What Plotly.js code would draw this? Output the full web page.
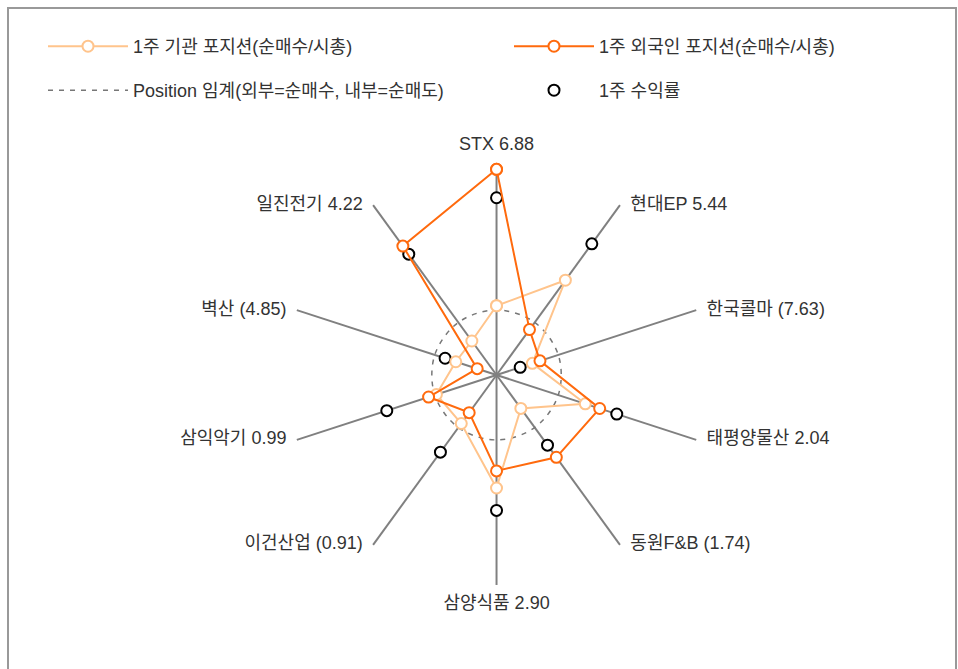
<!DOCTYPE html>
<html>
<head>
<meta charset="utf-8">
<script src="https://cdn.plot.ly/plotly-3.0.1.min.js"></script>
<style>
  html, body { margin: 0; padding: 0; background: #fff; }
  #chart { width: 958px; height: 669px; }
</style>
</head>
<body>
<div id="chart"></div>
<script>
// stocks clockwise from the top
const stocks = ['STX', '현대EP', '한국콜마', '태평양물산', '동원F&B', '삼양식품', '이건산업', '삼익악기', '벽산', '일진전기'];
// 1-week return (%)
const weekReturn = [6.88, 5.44, -7.63, 2.04, -1.74, 2.90, -0.91, 0.99, -4.85, 4.22];
// 1-week net buying / market cap (%)
const instPosition = [0.020, 0.241, -0.126, 0.131, -0.109, 0.222, -0.023, -0.008, -0.102, -0.106];
const foreignPosition = [0.650, -0.041, -0.089, 0.201, 0.170, 0.143, -0.085, 0.030, -0.206, 0.436];
const positionThreshold = 0;

const fmt = v => v < 0 ? '(' + Math.abs(v).toFixed(2) + ')' : v.toFixed(2);
const labels = stocks.map((s, i) => s + ' ' + fmt(weekReturn[i]));
const closed = arr => arr.concat([arr[0]]);

const LIGHT = '#ffc48c';
const ORANGE = '#ff6a0d';
const FONT = '"Liberation Sans", "Noto Sans CJK KR", sans-serif';
const RET_RANGE = [-10, 10];

// label side for each spoke, going clockwise from the top
const labelPos = ['top center', 'middle right', 'middle right', 'middle right', 'middle right',
  'bottom center', 'middle left', 'middle left', 'middle left', 'middle left'];

const traces = [
  {
    type: 'scatterpolar', subplot: 'polar2', legend: 'legend3',
    name: 'Position 임계(외부=순매수, 내부=순매도)',
    theta: closed(labels), r: closed(labels.map(() => positionThreshold)),
    mode: 'lines', hoverinfo: 'skip',
    line: { color: '#777', width: 1.5, dash: '5px,6px', shape: 'spline' }
  },
  {
    type: 'scatterpolar', subplot: 'polar2', legend: 'legend',
    name: '1주 기관 포지션(순매수/시총)',
    theta: closed(labels), r: closed(instPosition),
    mode: 'lines+markers',
    line: { color: LIGHT, width: 2 },
    marker: { symbol: 'circle', size: 11, color: '#fff', line: { color: LIGHT, width: 2 } }
  },
  {
    type: 'scatterpolar', subplot: 'polar2', legend: 'legend2',
    name: '1주 외국인 포지션(순매수/시총)',
    theta: closed(labels), r: closed(foreignPosition),
    mode: 'lines+markers',
    line: { color: ORANGE, width: 2 },
    marker: { symbol: 'circle', size: 11, color: '#fff', line: { color: ORANGE, width: 2 } }
  },
  {
    type: 'scatterpolar', subplot: 'polar', legend: 'legend4',
    name: '1주 수익률',
    theta: labels, r: weekReturn,
    mode: 'markers',
    marker: { symbol: 'circle', size: 11, color: '#fff', line: { color: '#000', width: 2 } }
  },
  {
    // spoke labels at the end of each spoke
    type: 'scatterpolar', subplot: 'polar', showlegend: false, hoverinfo: 'skip',
    theta: labels, r: labels.map(() => RET_RANGE[1]),
    mode: 'markers+text', text: labels, textposition: labelPos, cliponaxis: false,
    marker: { size: 15, color: 'rgba(0,0,0,0)' },
    textfont: { family: FONT, size: 18, color: '#333' }
  }
];

const domain = { x: [0.2991, 0.7375], y: [0.1256, 0.7534] };
const legendFont = { family: FONT, size: 18, color: '#333' };
const leg = (x, y) => ({
  x: x, xanchor: 'left', y: y, yanchor: 'top', itemwidth: 80,
  font: legendFont, bgcolor: 'rgba(0,0,0,0)'
});

const layout = {
  width: 958, height: 669,
  margin: { l: 0, r: 0, t: 0, b: 0 },
  paper_bgcolor: '#fff',
  font: { family: FONT, size: 18, color: '#333' },
  showlegend: true,
  polar: {
    domain: domain,
    bgcolor: 'rgba(0,0,0,0)',
    radialaxis: { range: RET_RANGE, visible: false },
    angularaxis: {
      type: 'category', categoryarray: labels,
      rotation: 90, direction: 'clockwise',
      showline: false, ticks: '', showticklabels: false,
      showgrid: true, gridcolor: '#808080', gridwidth: 2
    }
  },
  polar2: {
    domain: domain,
    bgcolor: 'rgba(0,0,0,0)',
    radialaxis: { range: [-0.3, 0.67], visible: false },
    angularaxis: {
      type: 'category', categoryarray: labels,
      rotation: 90, direction: 'clockwise',
      showline: false, ticks: '', showgrid: false, showticklabels: false
    }
  },
  legend: leg(43 / 958, 1 - 28 / 669),
  legend2: leg(509 / 958, 1 - 28 / 669),
  legend3: leg(43 / 958, 1 - 72 / 669),
  legend4: leg(509 / 958, 1 - 72 / 669),
  shapes: [{
    type: 'rect', xref: 'paper', yref: 'paper',
    x0: 8 / 958, x1: 956 / 958, y0: -0.05, y1: 1 - 8 / 669,
    line: { color: '#999', width: 2 }, fillcolor: 'rgba(0,0,0,0)', layer: 'below'
  }]
};

Plotly.newPlot('chart', traces, layout, { displayModeBar: false });
</script>
</body>
</html>
